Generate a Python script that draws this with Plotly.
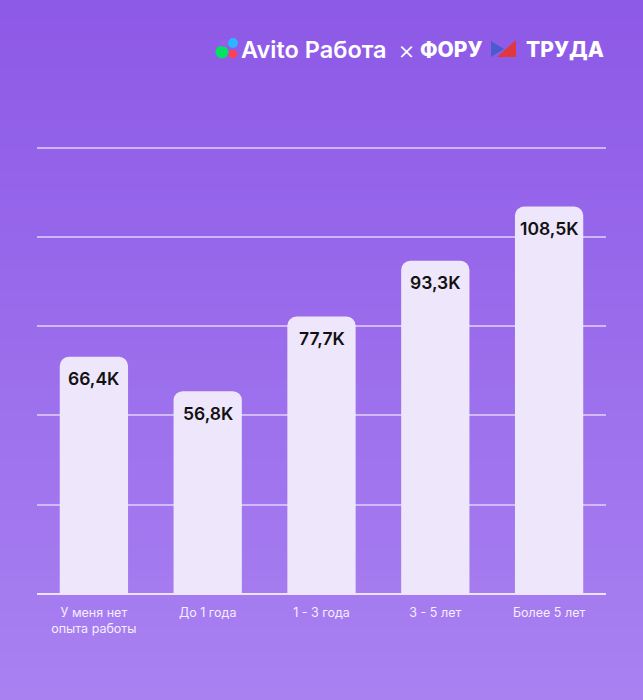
import plotly.graph_objects as go

categories = ["У меня нет<br>опыта работы", "До 1 года", "1 - 3 года", "3 - 5 лет", "Более 5 лет"]
values = [66.4, 56.8, 77.7, 93.3, 108.5]
value_labels = ["66,4K", "56,8K", "77,7K", "93,3K", "108,5K"]
y_ticks = [0, 25, 50, 75, 100, 125]

W, H = 643, 700
FONT = "Inter"
L, R, T, B = 37, 37, 144, 106
PW, PH = W - L - R, H - T - B

def px(x):  # pixel -> paper x
    return (x - L) / PW
def py(y):  # pixel -> paper y
    return (H - B - y) / PH

fig = go.Figure()
fig.add_trace(go.Bar(
    x=categories, y=values,
    marker=dict(color="#EEE6FB", cornerradius=9, line=dict(width=0)),
    width=0.6, hoverinfo="skip",
))

shapes = []
# gradient background
top = (141, 89, 231)
bot = (169, 129, 241)
N = 70
for i in range(N):
    t = i / (N - 1)
    c = tuple(round(top[k] + (bot[k] - top[k]) * t) for k in range(3))
    y0 = i * H / N
    y1 = (i + 1) * H / N
    shapes.append(dict(type="rect", xref="paper", yref="paper", layer="below",
                       x0=px(-5), x1=px(W + 5), y0=py(y0 - 0.5), y1=py(y1 + 0.5),
                       fillcolor="rgb(%d,%d,%d)" % c, line=dict(width=0)))

for cx, cy, r, col in [(222, 52, 6.5, "#04E061"), (233, 43, 5, "#2DB6FF"),
                       (233, 54, 4.2, "#FF4053"), (224, 43, 4, "#965EEB")]:
    shapes.append(dict(type="circle", xref="paper", yref="paper",
                       x0=px(cx - r), x1=px(cx + r), y0=py(cy + r), y1=py(cy - r),
                       fillcolor=col, line=dict(width=0)))
shapes.append(dict(type="path", xref="paper", yref="paper",
                   path="M %f %f L %f %f L %f %f Z" % (px(491), py(41), px(491), py(57), px(504), py(49)),
                   fillcolor="#4A5BD0", line=dict(width=0)))
shapes.append(dict(type="path", xref="paper", yref="paper",
                   path="M %f %f L %f %f L %f %f Z" % (px(497), py(57), px(516), py(57), px(516), py(40)),
                   fillcolor="#E0383E", line=dict(width=0)))

annotations = []
for c, v, lab in zip(categories, values, value_labels):
    annotations.append(dict(x=c, y=v, text=lab, showarrow=False, yanchor="middle",
                            yshift=-22, font=dict(family=FONT, size=17.5, color="#111111", weight=600)))

for txt, x, size, w in [("Avito Работа", 239, 23.5, 600), ("×", 396, 26, 300),
                        ("ФОРУ", 418, 21, 800), ("ТРУДА", 524, 21, 800)]:
    annotations.append(dict(xref="paper", yref="paper", x=px(x), y=py(49), xanchor="left",
                            yanchor="middle", text=txt, showarrow=False,
                            font=dict(family=FONT, size=size, color="#FFFFFF", weight=w)))

fig.update_layout(
    width=W, height=H,
    margin=dict(l=L, r=R, t=T, b=B),
    paper_bgcolor="#9868EA", plot_bgcolor="rgba(0,0,0,0)",
    showlegend=False,
    shapes=shapes, annotations=annotations,
    xaxis=dict(showgrid=False, showline=False, zeroline=False,
               ticks="outside", ticklen=7, tickcolor="rgba(0,0,0,0)",
               tickfont=dict(family=FONT, size=12.5, color="#F4EEFF")),
    yaxis=dict(range=[0, 126], tickvals=y_ticks, showticklabels=False,
               showgrid=True, gridcolor="rgba(225,210,255,0.75)", gridwidth=1.5,
               zeroline=True, zerolinecolor="#EDE3FF", zerolinewidth=2),
    bargap=0.4,
)

fig.write_html("out.html")
